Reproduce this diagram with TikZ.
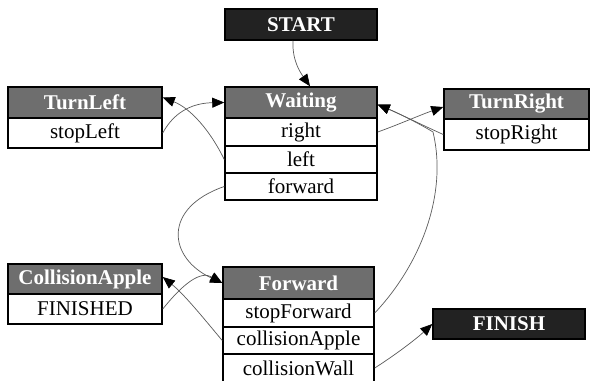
\documentclass[tikz,border=0pt]{standalone}
\usepackage{fontspec}
\setmainfont{Liberation Serif}
\usetikzlibrary{arrows.meta}
\definecolor{headgray}{HTML}{6E6E6E}
\definecolor{termdark}{HTML}{222222}
\definecolor{edgegray}{HTML}{5A5A5A}
\begin{document}
\begin{tikzpicture}[x=1pt,y=-1pt,
  cell/.style={draw=black, line width=1.5pt, inner sep=0pt, fill=white,
    font=\fontsize{21}{23}\selectfont},
  head/.style={cell, fill=headgray, text=white, font=\fontsize{21}{23}\selectfont\bfseries},
  term/.style={cell, fill=termdark, text=white, font=\fontsize{21}{23}\selectfont\bfseries},
  edge/.style={draw=edgegray, line width=0.7pt,
    -{Triangle[length=12pt,width=10pt,color=black,fill=black]}}
]
\useasboundingbox (0,0) rectangle (591,380);

% terminal states
\node[term, minimum width=152pt, minimum height=31pt] (st) at (301,24.5) {START};
\node[term, minimum width=152pt, minimum height=30pt] (fin) at (509,324) {FINISH};

% Waiting
\node[head, minimum width=152pt, minimum height=31pt] (w)  at (301,102.5) {Waiting};
\node[cell, minimum width=152pt, minimum height=28pt] (wr) at (301,132)   {right};
\node[cell, minimum width=152pt, minimum height=27pt] (wl) at (301,159.5) {left};
\node[cell, minimum width=152pt, minimum height=27pt] (wf) at (301,186.5) {forward};

% TurnLeft
\node[head, minimum width=154pt, minimum height=31pt] (tl)  at (85,102.5) {TurnLeft};
\node[cell, minimum width=154pt, minimum height=30pt] (tls) at (85,133)   {stopLeft};

% TurnRight
\node[head, minimum width=145pt, minimum height=30pt] (tr)  at (516.5,104)   {TurnRight};
\node[cell, minimum width=145pt, minimum height=31pt] (trs) at (516.5,134.5) {stopRight};

% CollisionApple
\node[head, minimum width=154pt, minimum height=30pt] (ca)  at (85,279) {CollisionApple};
\node[cell, minimum width=154pt, minimum height=30pt] (caf) at (85,309) {FINISHED};

% Forward
\node[head, minimum width=151pt, minimum height=32pt] (fh) at (298.5,283)   {Forward};
\node[cell, minimum width=151pt, minimum height=28pt] (fs) at (298.5,313)   {stopForward};
\node[cell, minimum width=151pt, minimum height=27pt] (fa) at (298.5,340.5) {collisionApple};
\node[cell, minimum width=151pt, minimum height=28pt] (fw) at (298.5,368)   {collisionWall};

% transitions
\draw[edge] ([xshift=-8pt]st.south) .. controls (292,60) and (300,72) .. ([xshift=9pt]w.north);
\draw[edge] (tls.east) .. controls (175,110) and (195,103) .. (w.west);
\draw[edge] (wl.west) .. controls (210,130) and (190,108) .. ([yshift=5pt]tl.east);
\draw[edge] (wr.east) .. controls (400,124) and (420,115) .. ([yshift=-3pt]tr.west);
\draw[edge] (trs.west) .. controls (420,124) and (400,114) .. ([yshift=-2pt]w.east);
\draw[edge] (fs.east) .. controls (420,265) and (448,195) .. (433,132)
  .. controls (420,124) and (400,114) .. ([yshift=-2pt]w.east);
\draw[edge] (wf.west) .. controls (162,208) and (168,258) .. (fh.west);
\draw[edge] (caf.east) .. controls (182,285) and (200,270) .. (fh.west);
\draw[edge] (fa.west) .. controls (205,320) and (185,295) .. ([yshift=2pt]ca.east);
\draw[edge] (fw.east) .. controls (395,355) and (415,340) .. (fin.west);
\end{tikzpicture}
\end{document}
